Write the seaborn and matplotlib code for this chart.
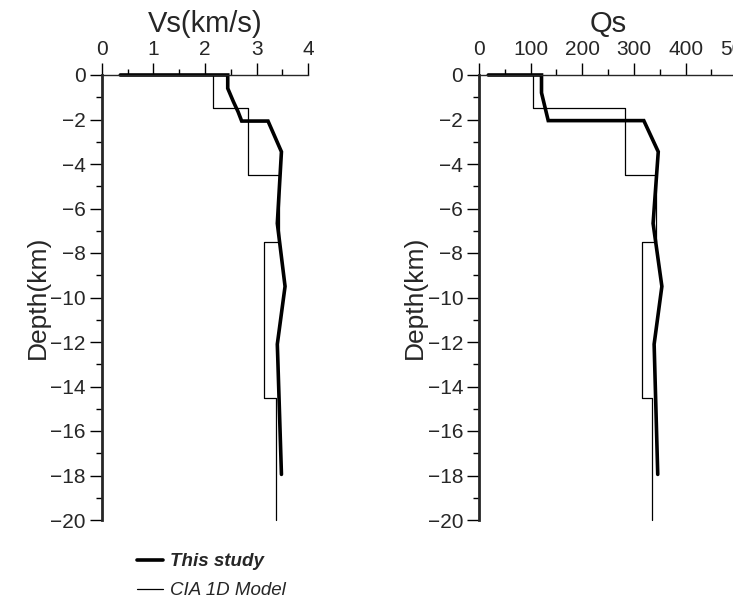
import numpy as np
import pandas as pd
import matplotlib
matplotlib.use("Agg")
import matplotlib.pyplot as plt
from matplotlib.ticker import MultipleLocator
from matplotlib.lines import Line2D
import seaborn as sns

# ---------------- data ----------------
# "This study" profiles (value, depth in km, negative downward)
study_vs = [0.36, 2.44, 2.44, 2.55, 2.64, 2.71, 3.22, 3.48, 3.40, 3.55, 3.40, 3.41, 3.48]
study_vs_depth = [0, 0, -0.6, -1.2, -1.65, -2.07, -2.07, -3.45, -6.67, -9.5, -12.1, -12.8, -17.95]

study_qs = [18, 121, 121, 134, 319, 347, 337, 354, 339, 346]
study_qs_depth = [0, 0, -0.8, -2.05, -2.05, -3.45, -6.67, -9.5, -12.1, -17.95]

# CIA 1D model (layered)
cia_layer_top = [0, -1.5, -4.5, -7.5, -14.5]
cia_layer_bottom = [-1.5, -4.5, -7.5, -14.5, -20]
cia_vs = [2.15, 2.83, 3.43, 3.15, 3.37]
cia_qs = [105, 283, 343, 315, 335]

panel_titles = ["Vs(km/s)", "Qs"]
ylabel = "Depth(km)"
legend_labels = ["This study", "CIA 1D Model"]


def steps(vals, tops, bottoms):
    xs, ys = [], []
    for v, t, b in zip(vals, tops, bottoms):
        xs += [v, v]
        ys += [t, b]
    return xs, ys


sns.set_style("ticks")
plt.rcParams["font.family"] = ["Liberation Sans", "DejaVu Sans"]
plt.rcParams["axes.unicode_minus"] = True

W, H = 733, 601
fig = plt.figure(figsize=(W / 100, H / 100), dpi=100)

def px_axes(x0, x1, y_top, y_bot):
    return fig.add_axes([x0 / W, 1 - y_bot / H, (x1 - x0) / W, (y_bot - y_top) / H])

ax1 = px_axes(101.7, 308.3, 75, 520)
ax2 = px_axes(479, 737.3, 75, 520)

panels = [
    (ax1, study_vs, study_vs_depth, cia_vs, (0, 4), 1, 0.5),
    (ax2, study_qs, study_qs_depth, cia_qs, (0, 500), 100, 50),
]

for ax, sv, sd, cv, xlim, maj, mnr in panels:
    cx, cy = steps(cv, cia_layer_top, cia_layer_bottom)
    df_cia = pd.DataFrame({"v": cx, "d": cy})
    df_st = pd.DataFrame({"v": sv, "d": sd})
    sns.lineplot(data=df_cia, x="v", y="d", sort=False, estimator=None,
                 color="black", linewidth=0.9, ax=ax, clip_on=False)
    sns.lineplot(data=df_st, x="v", y="d", sort=False, estimator=None,
                 color="black", linewidth=2.6, ax=ax, clip_on=False,
                 solid_joinstyle="miter")
    ax.set_xlim(*xlim)
    ax.set_ylim(-20, 0)
    ax.xaxis.set_major_locator(MultipleLocator(maj))
    ax.xaxis.set_minor_locator(MultipleLocator(mnr))
    ax.yaxis.set_major_locator(MultipleLocator(2))
    ax.yaxis.set_minor_locator(MultipleLocator(1))
    ax.xaxis.tick_top()
    ax.xaxis.set_label_position("top")
    for s in ["right", "bottom"]:
        ax.spines[s].set_visible(False)
    ax.spines["left"].set_linewidth(2.0)
    ax.spines["top"].set_linewidth(1.0)
    ax.tick_params(axis="both", which="major", length=8.4, width=1.0,
                   labelsize=15, pad=3, direction="out", color="black")
    ax.tick_params(axis="both", which="minor", length=4, width=1.0,
                   direction="out", color="black")
    ax.tick_params(axis="x", which="both", top=True, bottom=False)
    ax.set_xlabel("")
    ax.set_ylabel(ylabel, fontsize=19)
    ax.yaxis.set_label_coords(-0.25, 0.5)
    ax.set_facecolor("none")

ax2.yaxis.set_label_coords(-0.25 * 206.6 / 258.3, 0.5)

ax1.set_title(panel_titles[0], fontsize=21, y=1.097, pad=0)
ax2.set_title(panel_titles[1], fontsize=21, y=1.097, pad=0)

h1 = Line2D([], [], color="black", linewidth=2.6)
h2 = Line2D([], [], color="black", linewidth=0.9)
leg = ax1.legend([h1, h2], legend_labels, loc="upper left",
                 bbox_to_anchor=(0.171, -0.075), frameon=False,
                 borderaxespad=0, borderpad=0, fontsize=13.5,
                 handlelength=1.39, handletextpad=0.37, labelspacing=0.62)
t = leg.get_texts()
t[0].set_fontweight("bold")
t[0].set_fontstyle("italic")
t[1].set_fontstyle("italic")

fig.savefig("out.png", dpi=100, facecolor="white")
